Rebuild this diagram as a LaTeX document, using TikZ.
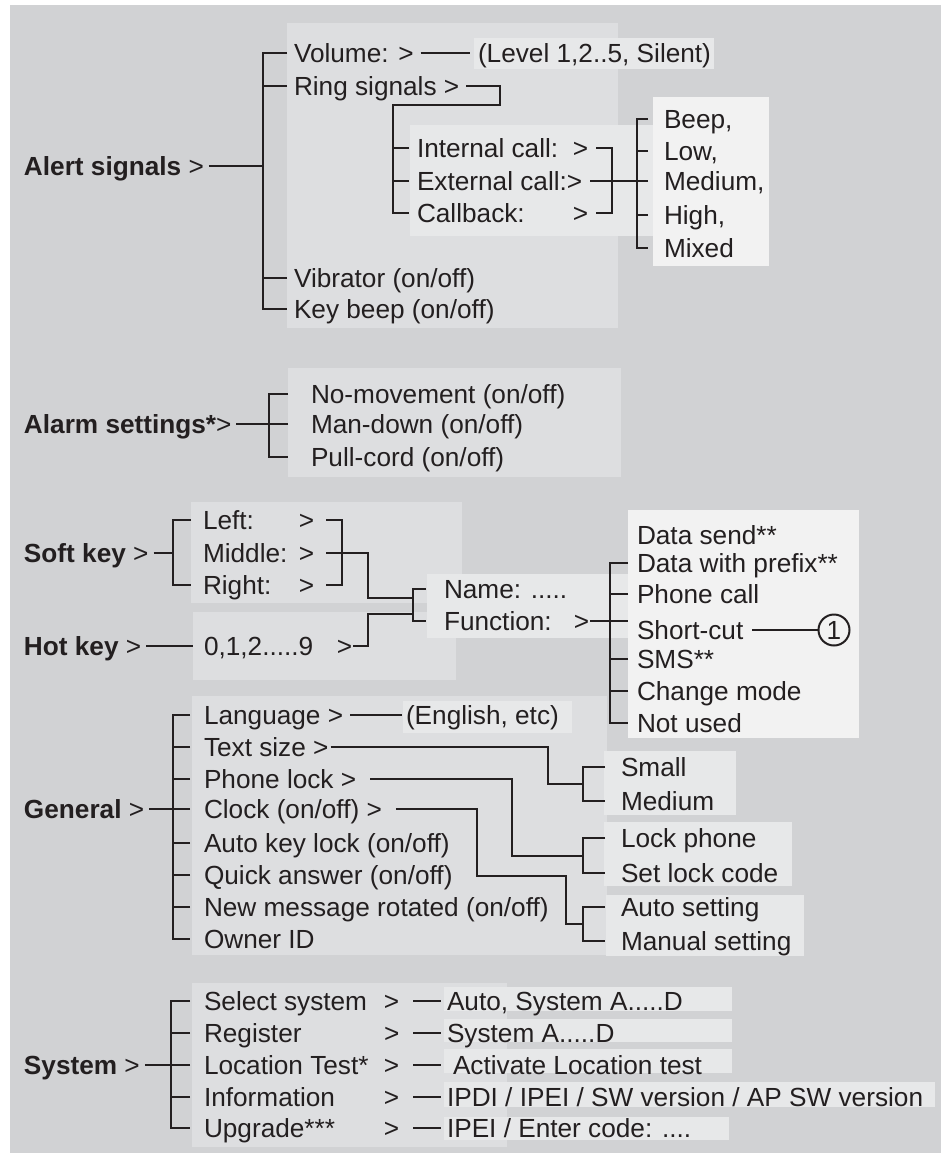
\documentclass[tikz,border=0pt]{standalone}
\usepackage{fontspec}
\setmainfont{Liberation Sans}
\definecolor{pagegray}{RGB}{209,210,212}
\definecolor{boxgray}{RGB}{221,222,224}
\definecolor{boxlight}{RGB}{231,232,233}
\definecolor{boxwhite}{RGB}{242,242,242}
\definecolor{ink}{RGB}{35,31,32}

\begin{document}
\begin{tikzpicture}[x=0.5pt,y=-0.5pt,
    font=\fontsize{13.1}{16}\selectfont, text=ink,
    wire/.style={draw=ink, line width=1pt},
    item/.style={inner sep=0pt, outer xsep=#1, outer ysep=0pt, anchor=west, text height=9.4pt, text depth=0pt},
    item/.default=3.5pt,
    head/.style={item=2.5pt}]
\useasboundingbox (0,0) rectangle (941,1153);
\fill[pagegray] (10,5) rectangle (941,1153);

% panels behind the menus
\fill[boxgray] (287,23) rectangle (618,328);
\fill[boxlight] (474,38) rectangle (714,69);
\fill[boxlight] (410,125) rectangle (653,236);
\fill[boxwhite] (653,97) rectangle (769,266);
\fill[boxgray] (288,368) rectangle (621,477);
\fill[boxgray] (191,502) rectangle (462,603);
\fill[boxgray] (193,612) rectangle (456,680);
\fill[boxlight] (427,574) rectangle (628,638);
\fill[boxwhite] (628,510) rectangle (859,738);
\fill[boxgray] (192,696) rectangle (607,955);
\fill[boxlight] (403,701) rectangle (572,733);
\fill[boxlight] (604,751) rectangle (736,815);
\fill[boxlight] (604,822) rectangle (792,886);
\fill[boxlight] (606,895) rectangle (804,956);
\fill[boxgray] (192,983) rectangle (507,1147);
\fill[boxlight] (444,987) rectangle (732,1011);
\fill[boxlight] (444,1019) rectangle (732,1042);
\fill[boxlight] (444,1049) rectangle (732,1073);
\fill[boxlight] (444,1082) rectangle (935,1107);
\fill[boxlight] (444,1117) rectangle (729,1140);

% Alert signals
\node[head] (alert) at (19,166) {{\bfseries Alert signals} >};
\node[item] (vol) at (287,53) {Volume: >};
\node[item] (ring) at (287,86) {Ring signals >};
\node[item] (vib) at (287,278) {Vibrator (on/off)};
\node[item] (keyb) at (287,309) {Key beep (on/off)};
\node[item=4pt] (level) at (470,53) {(Level 1,2..5, Silent)};
\coordinate (alertbar) at (263,166);
\draw[wire] (alert) -- (alertbar);
\draw[wire] (vol.west) -| (alertbar) |- (keyb.west);
\draw[wire] (ring.west) -- (ring.west -| alertbar) (vib.west) -- (vib.west -| alertbar);
\draw[wire] (vol.east) -- (level.west);

\node[item=4pt] (intc) at (409,148) {\makebox[78pt][l]{Internal call:}>};
\node[item=4pt] (extc) at (409,181) {External call:>};
\node[item=4pt] (callb) at (409,213) {\makebox[78pt][l]{Callback:}>};
\coordinate (ringbar) at (393,105);
\draw[wire] (ring.east) -| (500,105) -- (ringbar) |- (callb.west);
\draw[wire] (intc.west) -- (intc.west -| ringbar) (extc.west) -- (extc.west -| ringbar);
\coordinate (callbar) at (612,181);
\coordinate (beepbar) at (637,181);
\draw[wire] (intc.east) -| (callbar) |- (callb.east);
\draw[wire] (extc.east) -- (beepbar);

\node[item=8pt] (beep) at (648,119) {Beep,};
\node[item=8pt] (low) at (648,151) {Low,};
\node[item=8pt] (medium) at (648,181) {Medium,};
\node[item=8pt] (high) at (648,215) {High,};
\node[item=8pt] (mixed) at (648,248) {Mixed};
\draw[wire] (beep.west) -| (beepbar) |- (mixed.west);
\draw[wire] (low.west) -- (low.west -| beepbar) (medium.west) -- (beepbar) (high.west) -- (high.west -| beepbar);

% Alarm settings
\node[head] (alarm) at (19,424) {{\bfseries Alarm settings*}>};
\node[item=11.5pt] (nomove) at (288,394) {No-movement (on/off)};
\node[item=11.5pt] (mandown) at (288,424) {Man-down (on/off)};
\node[item=11.5pt] (pullcord) at (288,457) {Pull-cord (on/off)};
\coordinate (alarmbar) at (269,424);
\draw[wire] (alarm) -- (alarmbar);
\draw[wire] (nomove.west) -| (alarmbar) |- (pullcord.west);
\draw[wire] (mandown.west) -- (alarmbar);

% Soft key and Hot key
\node[head] (soft) at (19,553) {{\bfseries Soft key} >};
\node[item=6pt] (left) at (191,520) {\makebox[48pt][l]{Left:}>};
\node[item=6pt] (middle) at (191,553) {\makebox[48pt][l]{Middle:}>};
\node[item=6pt] (right) at (191,585) {\makebox[48pt][l]{Right:}>};
\coordinate (softbar) at (173,553);
\draw[wire] (soft) -- (softbar);
\draw[wire] (left.west) -| (softbar) |- (right.west);
\coordinate (keysbar) at (342,553);
\coordinate (softjoin) at (413,598);
\coordinate (hotjoin) at (413,614);
\draw[wire] (left.east) -| (keysbar) |- (right.east);
\draw[wire] (middle.east) -- (keysbar) -| (368,598) -- (softjoin);

\node[head] (hot) at (19,646) {{\bfseries Hot key} >};
\node[item=5.5pt] (digits) at (193,646) {\makebox[66.5pt][l]{0,1,2.....9}>};
\draw[wire] (hot) -- (digits);
\draw[wire] ([xshift=-5pt]digits.east) -| (368,614) -- (hotjoin);

\node[item=9pt] (name) at (426,589) {Name: .....};
\node[item=9pt] (func) at (426,621) {\makebox[65pt][l]{Function:}>};
\draw[wire] (name.west) -| (softjoin) -- (hotjoin) |- (func.west);

\node[item=4.5pt] (dsend) at (628,535) {Data send**};
\node[item=4.5pt] (dprefix) at (628,563) {Data with prefix**};
\node[item=4.5pt] (pcall) at (628,594) {Phone call};
\node[item=4.5pt] (short) at (628,630) {Short-cut};
\node[item=4.5pt] (sms) at (628,659) {SMS**};
\node[item=4.5pt] (cmode) at (628,691) {Change mode};
\node[item=4.5pt] (unused) at (628,723) {Not used};
\coordinate (funbar) at (610,621);
\draw[wire] (dprefix.west) -| (funbar) |- (unused.west);
\draw[wire] (pcall.west) -- (pcall.west -| funbar) (sms.west) -- (sms.west -| funbar) (cmode.west) -- (cmode.west -| funbar);
\draw[wire] ([xshift=-8.5pt]func.east) -- (func.east -| short.west);
\node[draw=ink, line width=1pt, circle, minimum size=15.5pt, inner sep=0pt] (one) at (834,630) {1};
\draw[wire] (short.east) -- (one);

% General
\node[head] (general) at (19,809) {{\bfseries General} >};
\node[item=7pt] (lang) at (190,715) {Language >};
\node[item=7pt] (tsize) at (190,747) {Text size >};
\node[item=7pt] (plock) at (190,779) {Phone lock >};
\node[item=7pt] (clock) at (190,809) {Clock (on/off) >};
\node[item=7pt] (akey) at (190,843) {Auto key lock (on/off)};
\node[item=7pt] (quick) at (190,875) {Quick answer (on/off)};
\node[item=7pt] (newmsg) at (190,907) {New message rotated (on/off)};
\node[item=7pt] (owner) at (190,939) {Owner ID};
\coordinate (genbar) at (173,809);
\draw[wire] (general) -- (genbar);
\draw[wire] (lang.west) -| (genbar) |- (owner.west);
\draw[wire] (tsize.west) -- (tsize.west -| genbar) (plock.west) -- (plock.west -| genbar) (clock.west) -- (genbar);
\draw[wire] (akey.west) -- (akey.west -| genbar) (quick.west) -- (quick.west -| genbar) (newmsg.west) -- (newmsg.west -| genbar);

\node[item=2pt] (english) at (402,715) {(English, etc)};
\draw[wire] ([xshift=-3.5pt]lang.east) -- (english.west);

\node[item=8pt] (small) at (605,767) {Small};
\node[item=8pt] (medsize) at (605,801) {Medium};
\coordinate (smallbar) at (583,784);
\draw[wire] (small.west) -| (smallbar) |- (medsize.west);
\draw[wire] ([xshift=-6pt]tsize.east) -| (548,784) -- (smallbar);

\node[item=8pt] (lockph) at (605,838) {Lock phone};
\node[item=8pt] (lockcode) at (605,873) {Set lock code};
\coordinate (lockbar) at (583,856);
\draw[wire] (lockph.west) -| (lockbar) |- (lockcode.west);
\draw[wire] (plock.east) -| (512,856) -- (lockbar);

\node[item=8pt] (autoset) at (605,907) {Auto setting};
\node[item=8pt] (manset) at (605,941) {Manual setting};
\coordinate (clockbar) at (583,924);
\draw[wire] (autoset.west) -| (clockbar) |- (manset.west);
\draw[wire] (clock.east) -| (477,876) -| (566,924) -- (clockbar);

% System
\node[head] (system) at (19,1065) {{\bfseries System} >};
\node[item=7pt] (selsys) at (190,1001) {\makebox[90pt][l]{Select system}>};
\node[item=7pt] (register) at (190,1033) {\makebox[90pt][l]{Register}>};
\node[item=7pt] (loctest) at (190,1065) {\makebox[90pt][l]{Location Test*}>};
\node[item=7pt] (info) at (190,1097) {\makebox[90pt][l]{Information}>};
\node[item=7pt] (upgrade) at (190,1128) {\makebox[90pt][l]{Upgrade***}>};
\coordinate (sysbar) at (171,1065);
\draw[wire] (system) -- (sysbar);
\draw[wire] (selsys.west) -| (sysbar) |- (upgrade.west);
\draw[wire] (register.west) -- (register.west -| sysbar) (loctest.west) -- (sysbar) (info.west) -- (info.west -| sysbar);

\node[item=3pt] (selopt) at (441,1001) {Auto, System A.....D};
\node[item=3pt] (regopt) at (441,1033) {System A.....D};
\node[item=6pt] (locopt) at (441,1065) {Activate Location test};
\node[item=3pt] (infoopt) at (441,1097) {IPDI / IPEI / SW version / AP SW version};
\node[item=3pt] (upopt) at (441,1128) {IPEI / Enter code: ....};
\draw[wire] (selsys.east) -- (selopt.west);
\draw[wire] (register.east) -- (regopt.west);
\draw[wire] (loctest.east) -- (locopt.west);
\draw[wire] (info.east) -- (infoopt.west);
\draw[wire] (upgrade.east) -- (upopt.west);
\end{tikzpicture}
\end{document}
